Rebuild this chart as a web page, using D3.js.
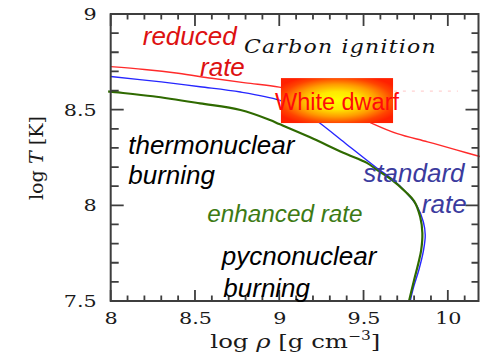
<!DOCTYPE html>
<html>
<head>
<meta charset="utf-8">
<script src="https://cdn.jsdelivr.net/npm/d3@7"></script>
<style>
  html, body { margin: 0; padding: 0; background: #fff; }
  svg { display: block; }
</style>
</head>
<body>
<svg id="chart" width="480" height="357"></svg>
<script>
// Carbon ignition curves in the (log rho, log T) plane.
// Each curve is a list of [log rho (g cm^-3), log T (K)] points.
const reducedRate = [
  [8.00, 8.725], [8.20, 8.710], [8.40, 8.690], [8.60, 8.664], [8.80, 8.640],
  [9.00, 8.618], [9.20, 8.575], [9.40, 8.495], [9.56, 8.425], [9.70, 8.375],
  [9.88, 8.332], [10.05, 8.290], [10.19, 8.255]
];
const standardRate = [
  [8.00, 8.673], [8.30, 8.645], [8.53, 8.620], [8.77, 8.592], [9.00, 8.550],
  [9.12, 8.505], [9.24, 8.430], [9.39, 8.326], [9.575, 8.198], [9.675, 8.133],
  [9.752, 8.068], [9.818, 7.995], [9.855, 7.913], [9.866, 7.845], [9.856, 7.766],
  [9.828, 7.662], [9.797, 7.573], [9.777, 7.500]
];
const enhancedRate = [
  [7.985, 8.596], [8.00, 8.594], [8.25, 8.570], [8.53, 8.533], [8.77, 8.498],
  [8.945, 8.446], [9.00, 8.425], [9.18, 8.357], [9.38, 8.275], [9.52, 8.222],
  [9.58, 8.185], [9.668, 8.133], [9.75, 8.070], [9.80, 8.022], [9.836, 7.940],
  [9.849, 7.855], [9.842, 7.766], [9.826, 7.700], [9.800, 7.610], [9.770, 7.500]
];

// White dwarf region: density and temperature extent.
const whiteDwarfRho = [9.01, 9.675];
const whiteDwarfT = [8.430, 8.665];
// Faint dashed guide at log T = 8.6.
const guideRho = [9.68, 10.06];
const guideT = 8.597;

// Axis ticks and labels.
const xTicks = [8, 8.5, 9, 9.5, 10];
const xTickLabels = ["8", "8.5", "9", "9.5", "10"];
const yTicks = [7.5, 8, 8.5, 9];
const yTickLabels = ["7.5", "8", "8.5", "9"];

const svg = d3.select("#chart");
const plotLeft = 110.7, plotRight = 478.5, plotTop = 14, plotBottom = 301;

const x = d3.scaleLinear().domain([8, 10.182]).range([plotLeft, plotRight]);
const y = d3.scaleLinear().domain([7.5, 9]).range([plotBottom, plotTop]);

const axisColor = "#3e3e3e";
const serif = "'DejaVu Serif', 'Liberation Serif', serif";
const sans = "'Liberation Sans', Arial, Helvetica, sans-serif";

// Box gradient: yellow core fading to red edges.
const defs = svg.append("defs");
const grad = defs.append("radialGradient")
  .attr("id", "wdGrad")
  .attr("cx", 0.5).attr("cy", 0.5).attr("r", 0.6);
grad.append("stop").attr("offset", 0).attr("stop-color", "#ffff00");
grad.append("stop").attr("offset", 0.33).attr("stop-color", "#ffe800");
grad.append("stop").attr("offset", 0.6).attr("stop-color", "#ff9c00");
grad.append("stop").attr("offset", 0.84).attr("stop-color", "#ff4400");
grad.append("stop").attr("offset", 1).attr("stop-color", "#ff2000");

// Curves
const line = d3.line()
  .x(d => x(d[0]))
  .y(d => y(d[1]))
  .curve(d3.curveCatmullRom.alpha(0.5));

svg.append("path").datum(reducedRate)
  .attr("d", line).attr("fill", "none")
  .attr("stroke", "#ff2a2a").attr("stroke-width", 1.4);
svg.append("path").datum(standardRate)
  .attr("d", line).attr("fill", "none")
  .attr("stroke", "#2626ff").attr("stroke-width", 1.4);
svg.append("path").datum(enhancedRate)
  .attr("d", line).attr("fill", "none")
  .attr("stroke", "#2f6a00").attr("stroke-width", 2.2);

// Faint dashed guide
svg.append("line")
  .attr("x1", x(guideRho[0])).attr("x2", x(guideRho[1]))
  .attr("y1", y(guideT)).attr("y2", y(guideT))
  .attr("stroke", "#ff9a9a").attr("stroke-opacity", 0.45)
  .attr("stroke-width", 1.2).attr("stroke-dasharray", "3,6");

// White dwarf box
svg.append("rect")
  .attr("x", x(whiteDwarfRho[0]))
  .attr("y", y(whiteDwarfT[1]))
  .attr("width", x(whiteDwarfRho[1]) - x(whiteDwarfRho[0]))
  .attr("height", y(whiteDwarfT[0]) - y(whiteDwarfT[1]))
  .attr("fill", "url(#wdGrad)");
svg.append("text")
  .attr("x", x((whiteDwarfRho[0] + whiteDwarfRho[1]) / 2))
  .attr("y", y(8.498))
  .attr("text-anchor", "middle")
  .attr("font-family", sans).attr("font-size", 23.5)
  .attr("fill", "#ff0a0a")
  .text("White dwarf");

// Frame and inward ticks on all four sides
const xMinor = d3.range(8.1, 10.15, 0.1).map(v => +v.toFixed(2)).filter(v => !xTicks.includes(v));
const yMinor = d3.range(7.6, 8.95, 0.1).map(v => +v.toFixed(2)).filter(v => !yTicks.includes(v));

const frame = svg.append("g");
frame.append("path")
  .attr("d", `M${plotLeft},${plotTop}H${plotRight}V${plotBottom}H${plotLeft}Z`)
  .attr("fill", "none").attr("stroke", axisColor).attr("stroke-width", 2);

const xTickSpec = xMinor.map(v => ({ v, bot: 5.5, top: 5.5 }))
  .concat(xTicks.map(v => ({ v, bot: 11, top: 12 })));
const yTickSpec = yMinor.map(v => ({ v, l: 8, r: 7 }))
  .concat(yTicks.map(v => ({ v, l: 13, r: 13 })));

// Tick marks as one path for all sides
const tickPath = (spec, fn) => spec.map(fn).join("");
frame.append("path")
  .attr("d", tickPath(xTickSpec, d => `M${x(d.v)},${plotBottom}V${plotBottom - d.bot}`)
    + tickPath(xTickSpec, d => `M${x(d.v)},${plotTop}V${plotTop + d.top}`)
    + tickPath(yTickSpec, d => `M${plotLeft},${y(d.v)}H${plotLeft + d.l}`)
    + tickPath(yTickSpec, d => `M${plotRight},${y(d.v)}H${plotRight - d.r}`))
  .attr("fill", "none").attr("stroke", axisColor).attr("stroke-width", 1.8);

// Tick labels from the axis generators
const xAxisG = svg.append("g").attr("transform", `translate(0,${plotBottom})`)
  .call(d3.axisBottom(x).tickValues(xTicks).tickSize(0)
    .tickPadding(11).tickFormat((d, i) => xTickLabels[i]));
const yAxisG = svg.append("g").attr("transform", `translate(${plotLeft},0)`)
  .call(d3.axisLeft(y).tickValues(yTicks).tickSize(0)
    .tickPadding(14).tickFormat((d, i) => yTickLabels[i]));
[xAxisG, yAxisG].forEach(g => g.selectAll(".domain, .tick line").remove());

const labelScale = 1.22;
xAxisG.selectAll(".tick text")
  .attr("font-family", serif).attr("font-size", 17).attr("fill", "#1a1a1a")
  .attr("transform", `scale(${labelScale},1)`);
yAxisG.selectAll(".tick text")
  .attr("font-family", serif).attr("font-size", 17).attr("fill", "#1a1a1a")
  .attr("x", -14 / labelScale)
  .attr("transform", `scale(${labelScale},1)`);

// Stretch a text element horizontally to a target width
function fitText(textSel, width, anchor) {
  const w0 = textSel.node().getComputedTextLength();
  const s = width / w0;
  const shift = anchor === "middle" ? -width / 2 : 0;
  textSel.attr("transform", `translate(${shift},0) scale(${s},1)`);
}

// Axis titles
const xt = svg.append("g").attr("transform", `translate(${(210.7 + 380) / 2},348)`)
  .append("text").attr("font-family", serif).attr("font-size", 19).attr("fill", "#1a1a1a");
xt.append("tspan").text("log ");
xt.append("tspan").attr("font-style", "italic").text("ρ");
xt.append("tspan").text(" [g  cm");
xt.append("tspan").attr("font-size", 12).attr("dy", -8).text("−3");
xt.append("tspan").attr("dy", 8).text("]");
fitText(xt, 170, "middle");

const yt = svg.append("g").attr("transform", "translate(43,158) rotate(-90)")
  .append("text").attr("font-family", serif).attr("font-size", 18).attr("fill", "#1a1a1a");
yt.append("tspan").text("log ");
yt.append("tspan").attr("font-style", "italic").text("T");
yt.append("tspan").text(" [K]");
fitText(yt, 84, "middle");

// Annotations
const ci = svg.append("g").attr("transform", `translate(${x(8.791)},${y(8.796)})`)
  .append("text").attr("font-family", serif).attr("font-style", "italic")
  .attr("font-size", 18).attr("fill", "#111").attr("letter-spacing", 1)
  .text("Carbon ignition");
fitText(ci, 193, "start");

const notes = [
  { t: "reduced", rho: 8.19, T: 8.838, c: "#dd1111", s: 26 },
  { t: "rate", rho: 8.53, T: 8.676, c: "#dd1111", s: 26 },
  { t: "thermonuclear", rho: 8.104, T: 8.267, c: "#000", s: 26 },
  { t: "burning", rho: 8.104, T: 8.110, c: "#000", s: 26 },
  { t: "standard", rho: 9.499, T: 8.123, c: "#3b3b9e", s: 26 },
  { t: "rate", rho: 9.846, T: 7.958, c: "#3b3b9e", s: 26 },
  { t: "enhanced rate", rho: 8.573, T: 7.911, c: "#3d7a14", s: 24.3 },
  { t: "pycnonuclear", rho: 8.659, T: 7.688, c: "#000", s: 26 },
  { t: "burning", rho: 8.668, T: 7.522, c: "#000", s: 26 }
];
svg.append("g").selectAll("text").data(notes).join("text")
  .attr("x", d => x(d.rho)).attr("y", d => y(d.T))
  .attr("font-family", sans).attr("font-style", "italic")
  .attr("font-size", d => d.s).attr("fill", d => d.c)
  .text(d => d.t);
</script>
</body>
</html>
